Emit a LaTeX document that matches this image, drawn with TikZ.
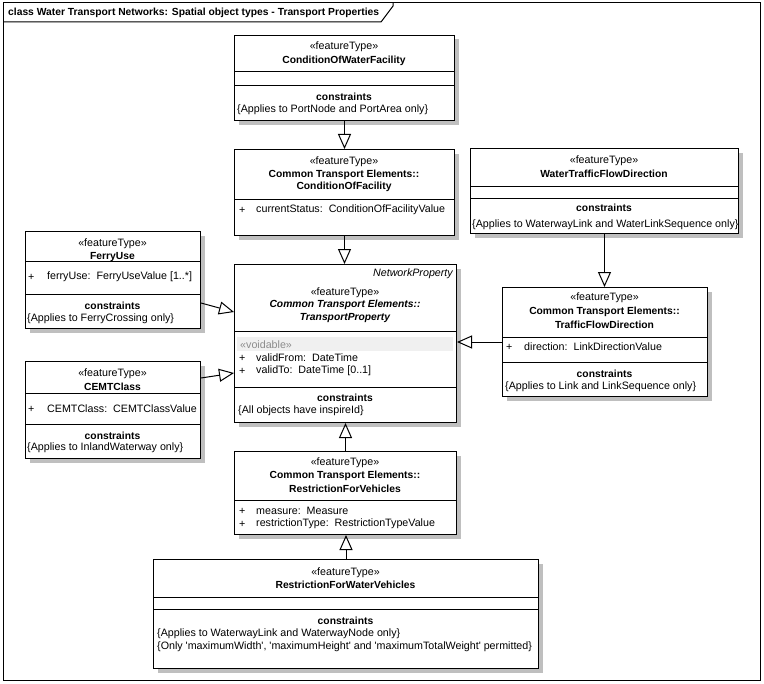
\documentclass[tikz,border=0pt]{standalone}
\usepackage{fontspec}
\setmainfont{Liberation Sans}
\usetikzlibrary{arrows.meta,shadows,calc}
\begin{document}
\begin{tikzpicture}[x=1bp,y=-1bp,
  font=\fontsize{10.7bp}{12.5bp}\selectfont,
  box/.style={draw, fill=white, line width=1bp, anchor=north west, inner sep=0pt,
    general shadow={fill=black!25, shadow xshift=4bp, shadow yshift=-4bp}},
  gen/.style={line width=1bp, -{Triangle[open, length=15bp, width=13bp]}},
  sepline/.style={line width=1bp},
  ctr/.style={inner sep=0pt, anchor=center},
  lt/.style={inner sep=0pt, anchor=west},
  bld/.style={ctr, font=\fontsize{10.3bp}{12.5bp}\selectfont\bfseries},
  bit/.style={ctr, font=\fontsize{10.3bp}{12.5bp}\selectfont\bfseries\itshape}]

\useasboundingbox (0,0) rectangle (764,684);
\draw[line width=1bp] (3,3) rectangle (760,680);
\draw[line width=1bp] (3,22) -- (381,22) -- (393,6) -- (393,3);
\node[lt, font=\fontsize{10.3bp}{12.5bp}\selectfont\bfseries] (title) at (8,13) {class Water Transport Networks: Spatial object types - Transport Properties};

% ConditionOfWaterFacility
\node[box, minimum width=220bp, minimum height=85bp] (cowf) at (234,35) {};
\draw[sepline] (234,72) -- (454,72) (234,86) -- (454,86);
\node[ctr] (cowf1) at (344,47) {«featureType»};
\node[bld] (cowf2) at (344,61) {ConditionOfWaterFacility};
\node[bld] (cowf3) at (344,97) {constraints};
\node[lt] (cowf4) at (237,110) {\{Applies to PortNode and PortArea only\}};

% ConditionOfFacility
\node[box, minimum width=220bp, minimum height=86bp] (cof) at (234,149) {};
\draw[sepline] (234,199) -- (454,199);
\node[ctr] (cof1) at (344,162) {«featureType»};
\node[bld] (cof2) at (344,175) {Common Transport Elements::};
\node[bld] (cof3) at (344,187) {ConditionOfFacility};
\node[lt] (cof4) at (239,210) {+};
\node[lt] (cof5) at (256,210) {currentStatus:\ \ ConditionOfFacilityValue};

% WaterTrafficFlowDirection
\node[box, minimum width=268bp, minimum height=85bp] (wtfd) at (470,148) {};
\draw[sepline] (470,186) -- (738,186) (470,198) -- (738,198);
\node[ctr] (wtfd1) at (604,161) {«featureType»};
\node[bld] (wtfd2) at (604,174) {WaterTrafficFlowDirection};
\node[bld] (wtfd3) at (604,208) {constraints};
\node[lt] (wtfd4) at (472,225) {\{Applies to WaterwayLink and WaterLinkSequence only\}};

% FerryUse
\node[box, minimum width=175bp, minimum height=97bp] (fu) at (25,231) {};
\draw[sepline] (25,261) -- (200,261) (25,294) -- (200,294);
\node[ctr] (fu1) at (112.5,244) {«featureType»};
\node[bld] (fu2) at (112.5,257) {FerryUse};
\node[lt] (fu3) at (28,277) {+};
\node[lt] (fu4) at (47,277) {ferryUse:\ \ FerryUseValue [1..*]};
\node[bld] (fu5) at (112.5,306) {constraints};
\node[lt] (fu6) at (27,319) {\{Applies to FerryCrossing only\}};

% CEMTClass
\node[box, minimum width=175bp, minimum height=97bp] (ce) at (25,361) {};
\draw[sepline] (25,393) -- (200,393) (25,424) -- (200,424);
\node[ctr] (ce1) at (112.5,374) {«featureType»};
\node[bld] (ce2) at (112.5,387) {CEMTClass};
\node[lt] (ce3) at (28,409) {+};
\node[lt] (ce4) at (47,409) {CEMTClass:\ \ CEMTClassValue};
\node[bld] (ce5) at (112.5,436) {constraints};
\node[lt] (ce6) at (27,448) {\{Applies to InlandWaterway only\}};

% TransportProperty
\node[box, minimum width=222bp, minimum height=158bp] (tp) at (234,264) {};
\draw[sepline] (234,331) -- (456,331) (234,387) -- (456,387);
\fill[black!6] (237,337) rectangle (453,351);
\node[inner sep=0pt, anchor=east, font=\fontsize{10.7bp}{12.5bp}\selectfont\itshape] (tp0) at (453,274) {NetworkProperty};
\node[ctr] (tp1) at (345,293) {«featureType»};
\node[bit] (tp2) at (345,305) {Common Transport Elements::};
\node[bit] (tp3) at (345,318) {TransportProperty};
\node[lt, text=black!45] (tp4) at (240,345) {«voidable»};
\node[lt] (tp5) at (239,358) {+};
\node[lt] (tp6) at (256,358) {validFrom:\ \ DateTime};
\node[lt] (tp7) at (239,371) {+};
\node[lt] (tp8) at (256,371) {validTo:\ \ DateTime [0..1]};
\node[bld] (tp9) at (345,398) {constraints};
\node[lt] (tp10) at (238,411) {\{All objects have inspireId\}};

% RestrictionForVehicles
\node[box, minimum width=222bp, minimum height=83bp] (rfv) at (234,451) {};
\draw[sepline] (234,500) -- (456,500);
\node[ctr] (rfv1) at (345,463) {«featureType»};
\node[bld] (rfv2) at (345,476) {Common Transport Elements::};
\node[bld] (rfv3) at (345,489) {RestrictionForVehicles};
\node[lt] (rfv4) at (239,511) {+};
\node[lt] (rfv5) at (256,511) {measure:\ \ Measure};
\node[lt] (rfv6) at (239,524) {+};
\node[lt] (rfv7) at (256,524) {restrictionType:\ \ RestrictionTypeValue};

% TrafficFlowDirection
\node[box, minimum width=205bp, minimum height=109bp] (tfd) at (502,287) {};
\draw[sepline] (502,337) -- (707,337) (502,362) -- (707,362);
\node[ctr] (tfd1) at (604.5,298) {«featureType»};
\node[bld] (tfd2) at (604.5,312) {Common Transport Elements::};
\node[bld] (tfd3) at (604.5,325) {TrafficFlowDirection};
\node[lt] (tfd4) at (506,347) {+};
\node[lt] (tfd5) at (524,347) {direction:\ \ LinkDirectionValue};
\node[bld] (tfd6) at (604.5,374) {constraints};
\node[lt] (tfd7) at (505,387) {\{Applies to Link and LinkSequence only\}};

% RestrictionForWaterVehicles
\node[box, minimum width=385bp, minimum height=109bp] (rfwv) at (153,559) {};
\draw[sepline] (153,597) -- (538,597) (153,609) -- (538,609);
\node[ctr] (rfwv1) at (345.5,573) {«featureType»};
\node[bld] (rfwv2) at (345.5,585) {RestrictionForWaterVehicles};
\node[bld] (rfwv3) at (345.5,621) {constraints};
\node[lt] (rfwv4) at (157,634) {\{Applies to WaterwayLink and WaterwayNode only\}};
\node[lt] (rfwv5) at (157,647) {\{Only \textquotesingle maximumWidth\textquotesingle, \textquotesingle maximumHeight\textquotesingle\ and \textquotesingle maximumTotalWeight\textquotesingle\ permitted\}};

% generalizations
\draw[gen] (cowf.south) -- (cowf.south |- cof.north);
\draw[gen] (cof.south) -- (cof.south |- tp.north);
\draw[gen] (rfv.north) -- (rfv.north |- tp.south);
\draw[gen] (rfwv.north) -- (rfwv.north |- rfv.south);
\draw[gen] (wtfd.south) -- (wtfd.south |- tfd.north);
\draw[gen] (tfd.west) -- (tfd.west -| tp.east);
\draw[gen] ($(fu.north east)+(0,72)$) -- ($(tp.north west)+(0,48)$);
\draw[gen] ($(ce.north east)+(0,17)$) -- ($(tp.north west)+(0,109)$);
\end{tikzpicture}
\end{document}
